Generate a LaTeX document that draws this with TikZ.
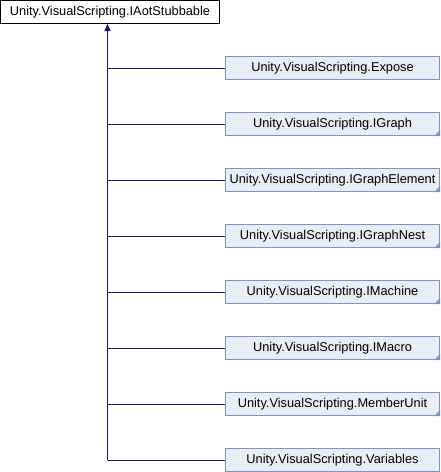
\documentclass[tikz,border=0pt]{standalone}
\usepackage{fontspec}
\setmainfont{Liberation Sans}
\usetikzlibrary{arrows.meta}
\definecolor{edgeblue}{HTML}{191970}
\definecolor{boxfill}{HTML}{E8EDF6}
\definecolor{boxdraw}{HTML}{7D95C6}
\begin{document}
\begin{tikzpicture}[x=1pt,y=-1pt,
  basebox/.style={draw=black,fill=white,line width=1pt,minimum width=219pt,minimum height=23pt,inner sep=0pt,font=\fontsize{12.8}{14}\selectfont},
  childbox/.style={draw=boxdraw,fill=boxfill,line width=1pt,minimum width=214pt,minimum height=23pt,inner sep=0pt,font=\fontsize{12.8}{14}\selectfont},
  edge/.style={draw=edgeblue,line width=1pt},
  fold/.style={fill=boxdraw}]
\useasboundingbox (0,0) rectangle (440,472);
\node[basebox] (base) at (110,12) {Unity.VisualScripting.IAotStubbable};
\foreach \name/\txt/\k in {expose/Expose/0,igraph/IGraph/1,igraphelement/IGraphElement/2,igraphnest/IGraphNest/3,imachine/IMachine/4,imacro/IMacro/5,memberunit/MemberUnit/6,variables/Variables/7}{
  \node[childbox] (\name) at (332.5,{68+56*\k}) {Unity.VisualScripting.\txt};
}
\foreach \name in {igraph,igraphelement,igraphnest,imachine,imacro,memberunit}{
  \fill[fold] (\name.south east) -- ++(0,-6) -- ++(-6,6) -- cycle;
}
\coordinate (trunk) at (107.5,460);
\draw[edge,-{Triangle[length=7pt,width=6pt]}] (trunk) -- (base.south -| trunk);
\foreach \name in {expose,igraph,igraphelement,igraphnest,imachine,imacro,memberunit,variables}{
  \draw[edge] (\name.west) -- (\name.west -| trunk);
}
\end{tikzpicture}
\end{document}
